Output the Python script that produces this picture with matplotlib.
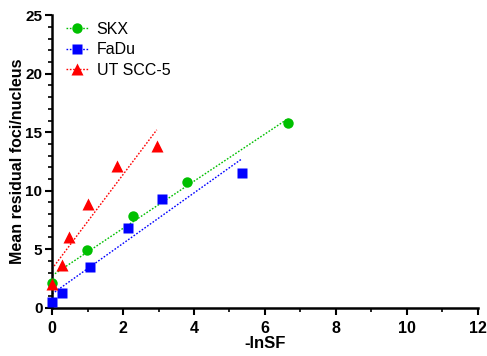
import numpy as np
import matplotlib
matplotlib.use("Agg")
import matplotlib.pyplot as plt
from matplotlib.ticker import MultipleLocator

plt.rcParams['font.family'] = ['Liberation Sans', 'DejaVu Sans']

# residual foci vs -lnSF for each cell line
skx_x = [0.0, 0.99, 2.29, 3.79, 6.66]
skx_y = [2.1, 4.95, 7.85, 10.7, 15.8]
fadu_x = [0.0, 0.29, 1.07, 2.13, 3.11, 5.34]
fadu_y = [0.45, 1.25, 3.5, 6.85, 9.25, 11.5]
utscc_x = [0.0, 0.27, 0.49, 1.02, 1.84, 2.95]
utscc_y = [2.0, 3.6, 6.0, 8.9, 12.1, 13.8]

series = [
    ("SKX", skx_x, skx_y, "#00c000", "o", 7.5),
    ("FaDu", fadu_x, fadu_y, "#0000ff", "s", 7.5),
    ("UT SCC-5", utscc_x, utscc_y, "#ff0000", "^", 8),
]

fig = plt.figure(figsize=(4.87, 3.56), dpi=100)
ax = fig.add_axes([0.107, 0.136, 0.874, 0.821])

for name, x, y, col, mk, ms in series:
    x = np.array(x)
    y = np.array(y)
    slope, icpt = np.polyfit(x, y, 1)
    xf = np.array([0, x.max()])
    ax.plot(xf, icpt + slope * xf, ls=(0, (1.2, 1.2)), color=col, lw=1.0, zorder=2)
    ax.plot(x, y, ls="none", marker=mk, color=col, ms=ms, mec="none", zorder=3)
    # legend proxy: marker on a dotted line
    ax.plot([], [], ls=(0, (1.2, 1.2)), lw=1.0, marker=mk, color=col, ms=ms,
            mec="none", label=name)

ax.set_xlim(0, 12)
ax.set_ylim(0, 25)
ax.xaxis.set_major_locator(MultipleLocator(2))
ax.xaxis.set_minor_locator(MultipleLocator(1))
ax.yaxis.set_major_locator(MultipleLocator(5))
ax.yaxis.set_minor_locator(MultipleLocator(1))

for s in ["top", "right"]:
    ax.spines[s].set_visible(False)
for s in ["left", "bottom"]:
    ax.spines[s].set_linewidth(1.8)
ax.tick_params(which="major", length=5, width=1.5, labelsize=11.5, pad=2.5)
ax.tick_params(which="minor", length=3, width=1.2)
ax.tick_params(axis="x", which="major", pad=5)
ax.tick_params(axis="y", which="major", labelsize=11, pad=2)
for lab in ax.get_xticklabels() + ax.get_yticklabels():
    lab.set_fontweight("bold")

ax.set_xlabel("-lnSF", fontsize=12, fontweight="bold", labelpad=0)
ax.set_ylabel("Mean residual foci/nucleus", fontsize=11.5, fontweight="bold", labelpad=0.5)
ax.margins(0)
for line in ax.lines:
    line.set_clip_on(False)

ax.legend(loc="upper left", frameon=False, fontsize=11.5, handlelength=1.35,
          handletextpad=0.55, labelspacing=0.35, borderaxespad=0,
          bbox_to_anchor=(0.018, 1.0))

fig.savefig("out.png", dpi=100)
